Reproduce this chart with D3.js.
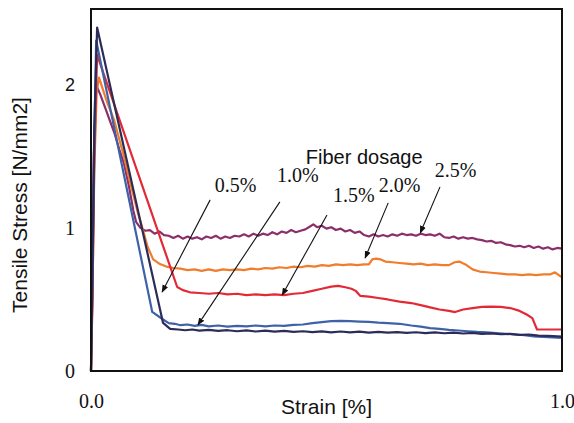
<!DOCTYPE html>
<html lang="en">
<head>
  <meta charset="UTF-8">
  <title>Tensile stress vs strain, fiber dosage</title>
  <style>
    html, body { margin: 0; background: #fff; }
    .line { fill: none; stroke-width: 2.2px; stroke-linejoin: round; }
    .serif { font-family: 'Liberation Serif', 'Times New Roman', serif; }
    .sans { font-family: 'Liberation Sans', Arial, sans-serif; }
    .arrow { stroke: #111; stroke-width: 1.1px; fill: none; }
  </style>
</head>
<body>
<svg width="574" height="423"></svg>
<script src="https://cdn.jsdelivr.net/npm/d3@7"></script>
<script>

// tick labels
const xTicks = [0, 1];
const xTickLabels = ["0.0", "1.0"];
const yTicks = [0, 1, 2];

// fiber dosages (series names)
const dosages = ["2.5%", "2.0%", "1.5%", "1.0%", "0.5%"];
const colors = ["#8c2e6a", "#f07c2c", "#e22a36", "#3d62a8", "#2b2c58"];

// [strain, stress]
const d25 = [[0,0],[0.003,0.6],[0.006,1.5],[0.011,2.0],[0.02,1.93],[0.03,1.84],[0.04,1.75],[0.05,1.66],[0.06,1.55],[0.07,1.45],[0.08,1.30],[0.09,1.12],[0.096,1.04],[0.105,1.0],[0.115,0.98],[0.125,0.985],[0.135,0.96],[0.145,0.975],[0.155,0.95],[0.165,0.945],[0.175,0.93],[0.185,0.945],[0.195,0.925],[0.205,0.94],[0.215,0.925],[0.225,0.935],[0.235,0.92],[0.245,0.94],[0.255,0.93],[0.265,0.945],[0.275,0.925],[0.285,0.94],[0.295,0.93],[0.305,0.945],[0.315,0.94],[0.325,0.955],[0.335,0.94],[0.345,0.96],[0.355,0.945],[0.365,0.96],[0.375,0.95],[0.385,0.97],[0.395,0.955],[0.405,0.975],[0.415,0.965],[0.425,0.985],[0.435,0.97],[0.445,0.98],[0.455,0.99],[0.465,1.01],[0.472,1.025],[0.48,1.005],[0.49,1.015],[0.5,0.995],[0.51,1.005],[0.52,0.985],[0.53,0.995],[0.54,0.975],[0.55,0.985],[0.56,0.965],[0.57,0.975],[0.58,0.95],[0.59,0.94],[0.6,0.955],[0.61,0.94],[0.62,0.95],[0.63,0.94],[0.64,0.955],[0.65,0.945],[0.66,0.96],[0.67,0.95],[0.68,0.955],[0.69,0.945],[0.70,0.96],[0.71,0.95],[0.72,0.955],[0.73,0.945],[0.74,0.96],[0.75,0.935],[0.76,0.93],[0.77,0.94],[0.78,0.925],[0.79,0.935],[0.80,0.925],[0.81,0.93],[0.82,0.92],[0.83,0.915],[0.84,0.905],[0.85,0.91],[0.86,0.895],[0.87,0.9],[0.88,0.885],[0.89,0.88],[0.90,0.87],[0.91,0.875],[0.92,0.865],[0.93,0.875],[0.94,0.86],[0.95,0.87],[0.96,0.855],[0.97,0.865],[0.98,0.85],[0.99,0.86],[1.0,0.855]];

const d20 = [[0,0],[0.003,0.5],[0.007,1.4],[0.012,1.95],[0.017,2.05],[0.025,1.97],[0.035,1.87],[0.049,1.755],[0.06,1.62],[0.07,1.5],[0.08,1.36],[0.09,1.23],[0.1,1.1],[0.11,0.99],[0.12,0.87],[0.132,0.78],[0.145,0.75],[0.16,0.73],[0.175,0.72],[0.19,0.715],[0.205,0.705],[0.22,0.71],[0.235,0.70],[0.25,0.71],[0.265,0.70],[0.28,0.71],[0.295,0.705],[0.31,0.71],[0.325,0.705],[0.34,0.715],[0.355,0.71],[0.37,0.72],[0.385,0.715],[0.40,0.725],[0.415,0.72],[0.43,0.73],[0.445,0.725],[0.46,0.735],[0.475,0.73],[0.49,0.74],[0.505,0.735],[0.52,0.745],[0.535,0.74],[0.55,0.745],[0.565,0.74],[0.58,0.745],[0.59,0.745],[0.597,0.78],[0.605,0.785],[0.615,0.78],[0.625,0.765],[0.64,0.76],[0.655,0.755],[0.67,0.75],[0.685,0.745],[0.70,0.75],[0.715,0.74],[0.73,0.745],[0.745,0.74],[0.76,0.74],[0.772,0.76],[0.782,0.765],[0.795,0.745],[0.81,0.71],[0.825,0.695],[0.84,0.69],[0.855,0.685],[0.87,0.68],[0.885,0.675],[0.90,0.675],[0.915,0.67],[0.93,0.675],[0.945,0.67],[0.96,0.675],[0.975,0.675],[0.985,0.69],[1.0,0.655]];

const d15 = [[0,0],[0.003,0.5],[0.007,1.5],[0.013,2.21],[0.183,0.587],[0.195,0.565],[0.21,0.55],[0.23,0.545],[0.25,0.54],[0.27,0.545],[0.29,0.535],[0.31,0.54],[0.33,0.53],[0.35,0.535],[0.37,0.53],[0.39,0.535],[0.41,0.53],[0.43,0.54],[0.45,0.545],[0.47,0.56],[0.49,0.575],[0.51,0.59],[0.525,0.595],[0.54,0.585],[0.553,0.575],[0.562,0.56],[0.572,0.525],[0.59,0.52],[0.61,0.51],[0.63,0.5],[0.655,0.485],[0.68,0.475],[0.70,0.46],[0.72,0.445],[0.74,0.43],[0.76,0.42],[0.773,0.412],[0.79,0.43],[0.81,0.44],[0.83,0.448],[0.85,0.45],[0.87,0.448],[0.89,0.44],[0.91,0.42],[0.925,0.395],[0.937,0.37],[0.947,0.29],[1.0,0.29]];

const d10 = [[0,0],[0.003,0.6],[0.007,1.6],[0.011,2.31],[0.13,0.413],[0.153,0.36],[0.165,0.335],[0.178,0.33],[0.19,0.32],[0.205,0.325],[0.22,0.315],[0.235,0.322],[0.25,0.312],[0.27,0.318],[0.29,0.31],[0.31,0.316],[0.33,0.312],[0.35,0.318],[0.37,0.312],[0.39,0.318],[0.41,0.315],[0.43,0.322],[0.45,0.325],[0.47,0.335],[0.49,0.342],[0.51,0.348],[0.53,0.35],[0.55,0.348],[0.57,0.345],[0.59,0.343],[0.61,0.338],[0.63,0.335],[0.655,0.33],[0.68,0.318],[0.70,0.31],[0.72,0.3],[0.74,0.295],[0.76,0.288],[0.78,0.283],[0.80,0.278],[0.82,0.273],[0.84,0.27],[0.86,0.265],[0.88,0.26],[0.90,0.255],[0.92,0.25],[0.94,0.242],[0.96,0.238],[0.98,0.235],[1.0,0.232]];

const d05 = [[0,0],[0.003,0.7],[0.007,1.7],[0.013,2.40],[0.153,0.336],[0.168,0.295],[0.185,0.29],[0.2,0.285],[0.215,0.29],[0.23,0.282],[0.25,0.288],[0.27,0.28],[0.29,0.285],[0.31,0.278],[0.33,0.284],[0.35,0.276],[0.37,0.282],[0.39,0.275],[0.41,0.28],[0.43,0.273],[0.45,0.278],[0.47,0.272],[0.49,0.277],[0.51,0.27],[0.53,0.276],[0.55,0.27],[0.57,0.275],[0.59,0.268],[0.61,0.274],[0.63,0.268],[0.65,0.272],[0.67,0.266],[0.69,0.271],[0.71,0.265],[0.73,0.27],[0.75,0.264],[0.77,0.268],[0.79,0.262],[0.81,0.266],[0.83,0.26],[0.85,0.263],[0.87,0.257],[0.89,0.26],[0.91,0.252],[0.93,0.255],[0.95,0.247],[0.97,0.245],[1.0,0.24]];

const series = [d25, d20, d15, d10, d05];

// callout labels: text anchor and arrow from/to, in data units
const labelPos = [[0.73, 1.357], [0.611, 1.252], [0.514, 1.182], [0.395, 1.322], [0.263, 1.252]];
const arrowFrom = [[0.741, 1.287], [0.631, 1.175], [0.501, 1.091], [0.401, 1.182], [0.253, 1.196]];
const arrowTo = [[0.699, 0.965], [0.582, 0.79], [0.406, 0.531], [0.227, 0.322], [0.151, 0.552]];

const svg = d3.select("svg"),
    margin = {top: 9, right: 12, bottom: 52, left: 91},
    width = +svg.attr("width") - margin.left - margin.right,
    height = +svg.attr("height") - margin.top - margin.bottom;

const x = d3.scaleLinear().domain([0, 1]).range([0, width]),
    y = d3.scaleLinear().domain([0, 2.53]).range([height, 0]);

const g = svg.append("g")
    .attr("transform", "translate(" + margin.left + "," + margin.top + ")");

svg.append("defs").append("marker")
    .attr("id", "head")
    .attr("viewBox", "0 0 10 10")
    .attr("refX", 9).attr("refY", 5)
    .attr("markerWidth", 7).attr("markerHeight", 7)
    .attr("orient", "auto")
  .append("path")
    .attr("d", "M0,1 L10,5 L0,9 Z")
    .attr("fill", "#111");

const line = d3.line()
    .x(function (d) { return x(d[0]); })
    .y(function (d) { return y(d[1]); });

series.forEach(function (s, i) {
  g.append("path")
      .datum(s)
      .attr("class", "line")
      .attr("stroke", colors[i])
      .attr("d", line);
});

// frame
g.append("rect")
    .attr("width", width)
    .attr("height", height)
    .attr("fill", "none")
    .attr("stroke", "#111")
    .attr("stroke-width", 2);

// axes, no tick marks
const xAxis = g.append("g")
    .attr("transform", "translate(0," + height + ")")
    .call(d3.axisBottom(x).tickValues(xTicks).tickSize(0).tickPadding(23)
      .tickFormat(function (d, i) { return xTickLabels[i]; }));
xAxis.select(".domain").remove();
xAxis.selectAll("text")
    .attr("class", "serif")
    .attr("font-size", 20)
    .attr("fill", "#111");

const yAxis = g.append("g")
    .call(d3.axisLeft(y).tickValues(yTicks).tickSize(0).tickPadding(16).tickFormat(d3.format("d")));
yAxis.select(".domain").remove();
yAxis.selectAll("text")
    .attr("class", function (d) { return d === 2 ? "sans" : "serif"; })
    .attr("font-size", function (d) { return d === 2 ? 18 : 20; })
    .attr("fill", "#111");

// axis titles
svg.append("text")
    .attr("class", "sans")
    .attr("x", margin.left + x(0.5))
    .attr("y", 414)
    .attr("text-anchor", "middle")
    .attr("font-size", 21)
    .attr("fill", "#111")
    .text("Strain [%]");

svg.append("text")
    .attr("class", "sans")
    .attr("transform", "translate(27," + (margin.top + y(1.16)) + ") rotate(-90)")
    .attr("text-anchor", "middle")
    .attr("font-size", 21)
    .attr("fill", "#111")
    .text("Tensile Stress [N/mm2]");

g.append("text")
    .attr("class", "sans")
    .attr("x", x(0.58))
    .attr("y", y(1.45))
    .attr("text-anchor", "middle")
    .attr("font-size", 20)
    .attr("fill", "#111")
    .text("Fiber dosage");

// callouts
dosages.forEach(function (name, i) {
  g.append("line")
      .attr("class", "arrow")
      .attr("x1", x(arrowFrom[i][0])).attr("y1", y(arrowFrom[i][1]))
      .attr("x2", x(arrowTo[i][0])).attr("y2", y(arrowTo[i][1]))
      .attr("marker-end", "url(#head)");
  g.append("text")
      .attr("class", "serif")
      .attr("x", x(labelPos[i][0]))
      .attr("y", y(labelPos[i][1]))
      .attr("font-size", 20)
      .attr("fill", "#111")
      .text(name);
});

</script>
</body>
</html>
